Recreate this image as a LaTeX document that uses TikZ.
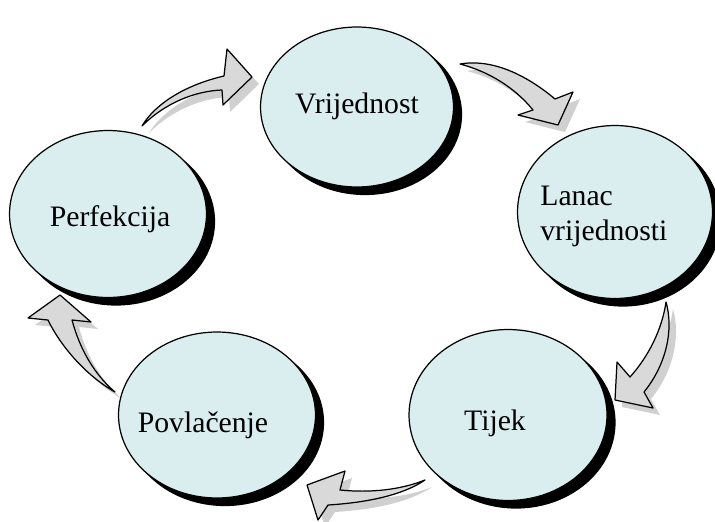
\documentclass[tikz,border=0pt]{standalone}
\usepackage{fontspec}
\setmainfont{Liberation Serif}
\usepackage{tikz}
\usetikzlibrary{shadows}
\usetikzlibrary{positioning}
\usetikzlibrary{arrows,shapes}
\usetikzlibrary{calc}

\definecolor{bubblefill}{RGB}{218,237,239}
\definecolor{arrowfill}{RGB}{217,217,217}
\definecolor{arrowshade}{RGB}{208,208,208}

\tikzset{
bubble/.style={ellipse,draw=black,line width=0.7pt,fill=bubblefill,inner sep=0pt,
  preaction={fill=black,draw=black,transform canvas={shift={(0.16cm,-0.15cm)}}}},
bubbletext/.style={font=\fontsize{16.9}{20}\selectfont,align=left,inner sep=0pt},
cyclearrow/.style={draw=black,line width=0.7pt,fill=arrowfill,line join=round},
cycleshade/.style={fill=arrowshade},
}
\newcommand{\cyclearrow}[1]{\fill[cycleshade,shift={(7,7)}] #1;\draw[cyclearrow] #1;}

\begin{document}
\begin{tikzpicture}[x=0.02cm,y=-0.02cm]
\useasboundingbox (0,0) rectangle (715,521);

% arrows
\cyclearrow{(142,126) .. controls (155,104) and (185,85) .. (224,76) -- (227,49) -- (252,77)
  -- (223,105) -- (222,90) .. controls (195,91) and (165,103) .. (142,126) -- cycle}
\cyclearrow{(460,64) .. controls (495,58) and (530,78) .. (555,99) -- (573,92) -- (558,125)
  -- (518,115) -- (533,110) .. controls (515,88) and (490,72) .. (460,64) -- cycle}
\cyclearrow{(666,302) .. controls (674,330) and (666,365) .. (644,392) -- (653,408) -- (615,400)
  -- (617,362) -- (630,377) .. controls (648,357) and (662,330) .. (666,302) -- cycle}
\cyclearrow{(425,480) .. controls (400,490) and (370,493) .. (340,490) -- (345,471) -- (307,485)
  -- (318,520) -- (328,505) .. controls (360,503) and (400,497) .. (425,480) -- cycle}
\cyclearrow{(115,392) .. controls (85,375) and (60,345) .. (48,320) -- (28,318) -- (60,295)
  -- (91,322) -- (72,320) .. controls (80,350) and (95,375) .. (115,392) -- cycle}

% bubbles
\node[bubble,minimum width=3.86cm,minimum height=3.2cm] (vrij) at (357,107) {};
\node[bubble,minimum width=3.9cm,minimum height=3.46cm] (lanac) at (615,212) {};
\node[bubble,minimum width=3.96cm,minimum height=3.42cm] (tijek) at (508,415) {};
\node[bubble,minimum width=3.94cm,minimum height=3.34cm] (perf) at (108,214) {};
\node[bubble,minimum width=3.94cm,minimum height=3.32cm] (povl) at (217,415) {};

\node[bubbletext,anchor=base] (vrijtxt) at (357,113) {Vrijednost};
\node[bubbletext,anchor=north west] (lanactxt) at (540,186) {Lanac\\vrijednosti};
\node[bubbletext,anchor=base] (tijektxt) at (495,430) {Tijek};
\node[bubbletext,anchor=base] (perftxt) at (110,226) {Perfekcija};
\node[bubbletext,anchor=base] (povltxt) at (203,432) {Povlačenje};

\end{tikzpicture}
\end{document}
